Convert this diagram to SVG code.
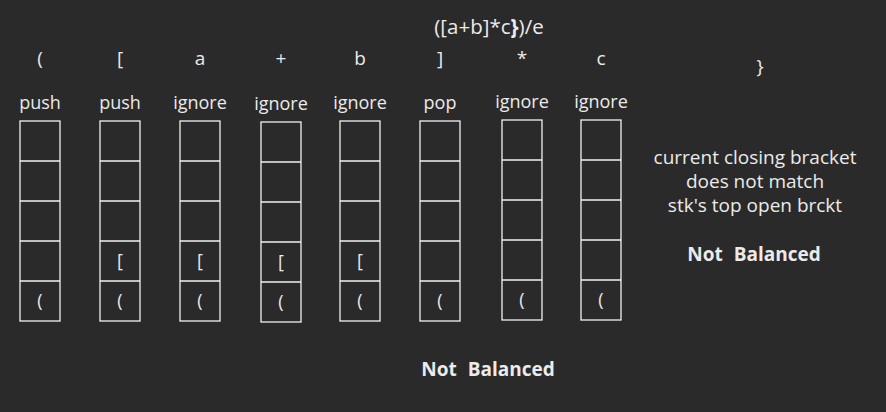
<svg xmlns="http://www.w3.org/2000/svg" width="886" height="412" viewBox="0 0 886 412">
<style>
text{font-family:"Open Sans","DejaVu Sans",sans-serif;fill:#ebebeb;text-anchor:middle;font-size:18px}
.b{font-weight:bold;font-size:19px;word-spacing:6px}
.t{font-size:20.5px}
.c{fill:none;stroke:#f2f2f2;stroke-width:1.3}
.s{font-size:19px}
.h{font-size:19px}
</style>
<defs>
<g id="stack">
<rect class="c" x="0" y="0" width="40" height="200"/>
<line class="c" x1="0" y1="40" x2="40" y2="40"/>
<line class="c" x1="0" y1="80" x2="40" y2="80"/>
<line class="c" x1="0" y1="120" x2="40" y2="120"/>
<line class="c" x1="0" y1="160" x2="40" y2="160"/>
</g>
</defs>
<rect width="886" height="412" fill="#2a2a2a"/>
<text id="title" class="t" x="489" y="34">([a+b]*c<tspan font-weight="bold">}</tspan>)/e</text>
<g id="col1"><text class="h" x="40" y="65">(</text><text x="40" y="109">push</text><use href="#stack" x="20" y="121"/><text x="40" y="307">(</text></g>
<g id="col2"><text class="h" x="120" y="65">[</text><text x="120" y="109">push</text><use href="#stack" x="100" y="121"/><text x="120" y="267">[</text><text x="120" y="307">(</text></g>
<g id="col3"><text class="h" x="200" y="65">a</text><text x="200" y="109">ignore</text><use href="#stack" x="180" y="121"/><text x="200" y="267">[</text><text x="200" y="307">(</text></g>
<g id="col4"><text class="h" x="281" y="65">+</text><text x="281" y="110">ignore</text><use href="#stack" x="261" y="122"/><text x="281" y="268">[</text><text x="281" y="308">(</text></g>
<g id="col5"><text class="h" x="360" y="65">b</text><text x="360" y="109">ignore</text><use href="#stack" x="340" y="121"/><text x="360" y="267">[</text><text x="360" y="307">(</text></g>
<g id="col6"><text class="h" x="440" y="65">]</text><text x="440" y="109">pop</text><use href="#stack" x="420" y="121"/><text x="440" y="307">(</text></g>
<g id="col7"><text class="h" x="522" y="65">*</text><text x="522" y="108">ignore</text><use href="#stack" x="502" y="120"/><text x="522" y="306">(</text></g>
<g id="col8"><text class="h" x="601" y="65">c</text><text x="601" y="108">ignore</text><use href="#stack" x="581" y="120"/><text x="601" y="306">(</text></g>
<g id="col9"><text class="h" x="760" y="73">}</text>
<text class="s" x="755" y="164">current closing bracket</text>
<text class="s" x="755" y="188">does not match</text>
<text class="s" x="755" y="212">stk's top open brckt</text>
<text class="b" x="754" y="261">Not Balanced</text></g>
<text id="result" class="b" x="488" y="376">Not Balanced</text>
</svg>
